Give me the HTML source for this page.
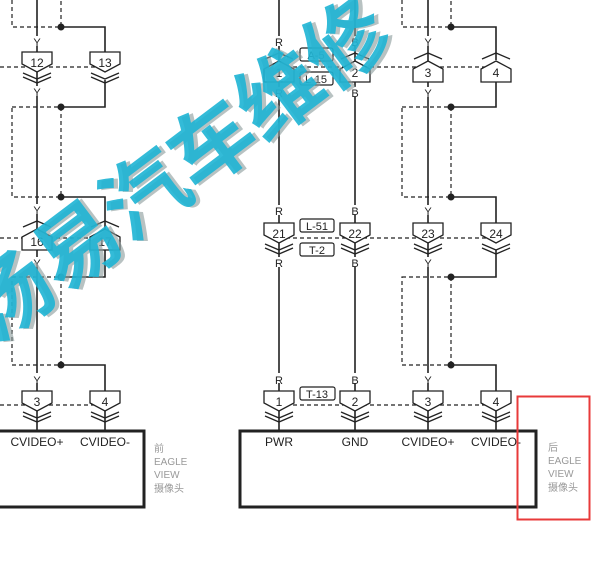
<!DOCTYPE html>
<html><head><meta charset="utf-8"><style>
html,body{margin:0;padding:0;background:#fff;}
svg{display:block;}
text{font-family:"Liberation Sans","Noto Sans CJK SC",sans-serif;}
</style></head><body>
<svg width="602" height="569" viewBox="0 0 602 569" xmlns="http://www.w3.org/2000/svg">
<defs>
<g id="dn"><polygon points="-15,0 15,0 15,12 0,20 -15,12" fill="#fff" stroke="#222" stroke-width="1.3"/>
<polyline points="-14,21 0,27 14,21" fill="none" stroke="#222" stroke-width="1.3"/>
<polyline points="-14,25 0,31 14,25" fill="none" stroke="#222" stroke-width="1.3"/></g>
<g id="up"><polygon points="0,0 15,8 15,21 -15,21 -15,8" fill="#fff" stroke="#222" stroke-width="1.3"/>
<polyline points="-14,-2 0,-8 14,-2" fill="none" stroke="#222" stroke-width="1.3"/></g>
</defs>
<g stroke="#222" stroke-width="1.2" stroke-dasharray="4,3" fill="none">
<polyline points="12,0 12,27 61,27 61,0"/>
<rect x="12" y="107" width="49" height="90"/>
<rect x="12" y="277" width="49" height="88"/>
<polyline points="402,0 402,27 451,27 451,0"/>
<rect x="402" y="107" width="49" height="90"/>
<rect x="402" y="277" width="49" height="88"/>
<line x1="0" y1="67" x2="105" y2="67"/>
<line x1="0" y1="238" x2="105" y2="238"/>
<line x1="0" y1="405" x2="105" y2="405"/>
<line x1="279" y1="67" x2="496" y2="67"/>
<line x1="279" y1="238" x2="496" y2="238"/>
<line x1="279" y1="405" x2="496" y2="405"/>
</g>
<g stroke="#222" stroke-width="1.6" fill="none">
<line x1="37" y1="0" x2="37" y2="430"/>
<line x1="279" y1="0" x2="279" y2="430"/>
<line x1="355" y1="0" x2="355" y2="430"/>
<line x1="428" y1="0" x2="428" y2="430"/>
<polyline points="61,27 105,27 105,60"/>
<polyline points="61,107 105,107 105,80"/>
<polyline points="61,197 105,197 105,230"/>
<polyline points="61,277 105,277 105,250"/>
<polyline points="61,365 105,365 105,430"/>
<polyline points="451,27 496,27 496,60"/>
<polyline points="451,107 496,107 496,80"/>
<polyline points="451,197 496,197 496,230"/>
<polyline points="451,277 496,277 496,250"/>
<polyline points="451,365 496,365 496,430"/>
</g>
<g fill="#222">
<circle cx="61" cy="27" r="3.5"/><circle cx="61" cy="107" r="3.5"/><circle cx="61" cy="197" r="3.5"/><circle cx="61" cy="277" r="3.5"/><circle cx="61" cy="365" r="3.5"/>
<circle cx="451" cy="27" r="3.5"/><circle cx="451" cy="107" r="3.5"/><circle cx="451" cy="197" r="3.5"/><circle cx="451" cy="277" r="3.5"/><circle cx="451" cy="365" r="3.5"/>
</g>
<use href="#dn" x="37" y="52"/><use href="#dn" x="105" y="52"/>
<use href="#up" x="37" y="229"/><use href="#up" x="105" y="229"/>
<use href="#dn" x="37" y="391"/><use href="#dn" x="105" y="391"/>
<use href="#up" x="279" y="61"/><use href="#up" x="355" y="61"/><use href="#up" x="428" y="61"/><use href="#up" x="496" y="61"/>
<use href="#dn" x="279" y="223"/><use href="#dn" x="355" y="223"/><use href="#dn" x="428" y="223"/><use href="#dn" x="496" y="223"/>
<use href="#dn" x="279" y="391"/><use href="#dn" x="355" y="391"/><use href="#dn" x="428" y="391"/><use href="#dn" x="496" y="391"/>
<g font-size="12" fill="#222" text-anchor="middle">
<text x="37" y="67">12</text><text x="105" y="67">13</text>
<text x="37" y="246">16</text><text x="105" y="246">17</text>
<text x="37" y="406">3</text><text x="105" y="406">4</text>
<text x="279" y="77">1</text><text x="355" y="77">2</text><text x="428" y="77">3</text><text x="496" y="77">4</text>
<text x="279" y="238">21</text><text x="355" y="238">22</text><text x="428" y="238">23</text><text x="496" y="238">24</text>
<text x="279" y="406">1</text><text x="355" y="406">2</text><text x="428" y="406">3</text><text x="496" y="406">4</text>
</g>
<g font-size="11" fill="#222" text-anchor="middle">
<g fill="#fff"><rect x="31" y="36" width="12" height="10"/><rect x="31" y="86" width="12" height="10"/><rect x="31" y="204" width="12" height="10"/><rect x="31" y="257" width="12" height="10"/><rect x="31" y="373" width="12" height="10"/>
<rect x="273" y="36" width="12" height="10"/><rect x="349" y="36" width="12" height="10"/><rect x="422" y="36" width="12" height="10"/>
<rect x="273" y="87" width="12" height="10"/><rect x="349" y="87" width="12" height="10"/><rect x="422" y="87" width="12" height="10"/>
<rect x="273" y="205" width="12" height="10"/><rect x="349" y="205" width="12" height="10"/><rect x="422" y="205" width="12" height="10"/>
<rect x="273" y="257" width="12" height="10"/><rect x="349" y="257" width="12" height="10"/><rect x="422" y="257" width="12" height="10"/>
<rect x="273" y="373" width="12" height="10"/><rect x="349" y="373" width="12" height="10"/><rect x="422" y="373" width="12" height="10"/></g>
<text x="37" y="46">Y</text><text x="37" y="96">Y</text><text x="37" y="214">Y</text><text x="37" y="267">Y</text><text x="37" y="384">Y</text>
<text x="279" y="46">R</text><text x="355" y="46">B</text><text x="428" y="46">Y</text>
<text x="279" y="97">R</text><text x="355" y="97">B</text><text x="428" y="97">Y</text>
<text x="279" y="215">R</text><text x="355" y="215">B</text><text x="428" y="215">Y</text>
<text x="279" y="267">R</text><text x="355" y="267">B</text><text x="428" y="267">Y</text>
<text x="279" y="384">R</text><text x="355" y="384">B</text><text x="428" y="384">Y</text>
</g>
<g fill="#fff" stroke="#222" stroke-width="1.2">
<rect x="300" y="48" width="33" height="13" rx="2"/><rect x="300" y="72" width="33" height="13" rx="2"/>
<rect x="300" y="219" width="34" height="13" rx="2"/><rect x="300" y="243" width="34" height="13" rx="2"/>
<rect x="300" y="387" width="35" height="13" rx="2"/>
</g>
<g font-size="11" fill="#222" text-anchor="middle">
<text x="316" y="59">A-5</text><text x="316" y="83">L-15</text>
<text x="317" y="230">L-51</text><text x="317" y="254">T-2</text><text x="317" y="398">T-13</text>
</g>
<g fill="none" stroke="#222" stroke-width="3">
<polyline points="0,431 144,431 144,507 0,507"/>
<rect x="240" y="431" width="296" height="76"/>
</g>
<g font-size="12" fill="#222" text-anchor="middle">
<text x="37" y="446">CVIDEO+</text><text x="105" y="446">CVIDEO-</text>
<text x="279" y="446">PWR</text><text x="355" y="446">GND</text><text x="428" y="446">CVIDEO+</text><text x="496" y="446">CVIDEO-</text>
</g>
<g font-size="10" fill="#999">
<text x="154" y="452">前</text><text x="154" y="465">EAGLE</text><text x="154" y="478">VIEW</text><text x="154" y="492">摄像头</text>
<text x="548" y="451">后</text><text x="548" y="464">EAGLE</text><text x="548" y="477">VIEW</text><text x="548" y="491">摄像头</text>
</g>
<rect x="517.5" y="396.5" width="72" height="123" fill="none" stroke="#e83a3a" stroke-width="2"/>
<g transform="translate(-5,345) rotate(-37)">
<text x="0" y="0" font-size="84" font-weight="bold" fill="#8a9a9a" opacity="0.6" transform="translate(3,3)" font-family="Noto Sans CJK SC, sans-serif">汤易汽车维修</text>
<text x="0" y="0" font-size="84" font-weight="bold" fill="#1eb4d4" opacity="0.9" font-family="Noto Sans CJK SC, sans-serif">汤易汽车维修</text>
</g>
</svg>
</body></html>
